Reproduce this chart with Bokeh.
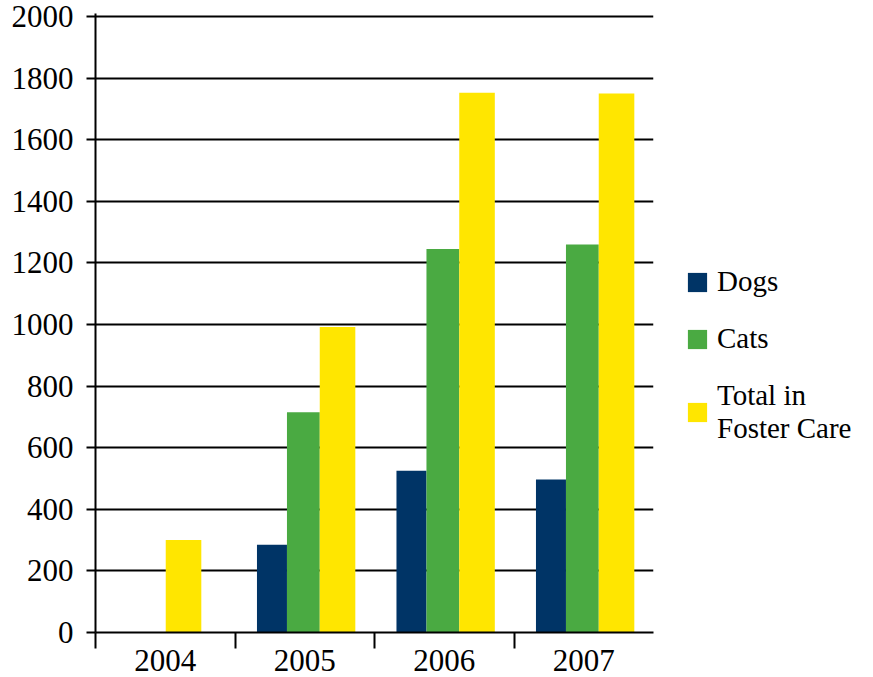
import numpy as np
from bokeh.plotting import figure
from bokeh.models import FixedTicker, Range1d, Legend, LegendItem, ColumnDataSource
from bokeh.embed import file_html
from bokeh.resources import INLINE

# ---- data ----
years = ["2004", "2005", "2006", "2007"]
dogs = [0, 285, 525, 497]
cats = [0, 715, 1245, 1260]
total = [300, 992, 1753, 1750]
series_names = ["Dogs", "Cats", "Total in\nFoster Care"]
y_ticks = [0, 200, 400, 600, 800, 1000, 1200, 1400, 1600, 1800, 2000]

# ---- style / layout ----
colors = ["#003466", "#4aaa42", "#ffe600"]
centers = [0.265, 0.49, 0.735]
widths = [0.215, 0.235, 0.255]
group_shift = [-0.104, 0.0, 0.0, 0.0]
FONT = "Liberation Serif"

idx = np.arange(len(years))
p = figure(frame_width=558, frame_height=619, x_range=Range1d(0, len(years)), y_range=Range1d(0, 2010),
           output_backend="svg", toolbar_location=None,
           min_border_left=95, min_border_top=13, min_border_right=0, min_border_bottom=10)
p.outline_line_color = None
p.background_fill_color = "white"

renderers = []
for k, (vals, c, w) in enumerate(zip([dogs, cats, total], colors, widths)):
    xs = idx + centers[k] + np.array(group_shift)
    src = ColumnDataSource(dict(x=xs, top=vals))
    r = p.vbar(x="x", top="top", bottom=0, width=w, source=src, fill_color=c, line_color=None)
    renderers.append(r)

# axes
xa = p.xaxis[0]
xa.ticker = FixedTicker(ticks=list(idx + 0.5), minor_ticks=list(idx))
xa.major_label_overrides = {float(i + 0.5): y for i, y in enumerate(years)}
xa.major_tick_out = 0
xa.major_tick_in = 0
xa.minor_tick_out = 16
xa.minor_tick_in = 0
xa.minor_tick_line_width = 2
xa.minor_tick_line_color = "black"
xa.axis_line_width = 2
xa.axis_line_color = "black"
xa.major_label_standoff = 1
xa.major_label_text_font = FONT
xa.major_label_text_font_size = "31px"
xa.major_label_text_color = "black"

ya = p.yaxis[0]
ya.ticker = FixedTicker(ticks=y_ticks, minor_ticks=[])
ya.major_tick_out = 9
ya.major_tick_in = 0
ya.major_tick_line_width = 2
ya.major_tick_line_color = "black"
ya.axis_line_width = 2
ya.axis_line_color = "black"
ya.major_label_standoff = 13
ya.major_label_text_font = FONT
ya.major_label_text_font_size = "31px"
ya.major_label_text_color = "black"

p.xgrid.visible = False
p.ygrid.grid_line_color = "black"
p.ygrid.grid_line_width = 2
p.ygrid.grid_line_alpha = 1

legend = Legend(items=[LegendItem(label=n, renderers=[r]) for n, r in zip(series_names, renderers)],
                location=(32, 187))
legend.border_line_color = None
legend.background_fill_alpha = 0
legend.label_text_font = FONT
legend.label_text_font_size = "29px"
legend.label_text_color = "black"
legend.glyph_width = 24
legend.glyph_height = 24
legend.label_standoff = 8
legend.spacing = 24
legend.padding = 0
legend.margin = 0
p.add_layout(legend, "right")

open("out.html", "w").write(file_html(p, INLINE))
